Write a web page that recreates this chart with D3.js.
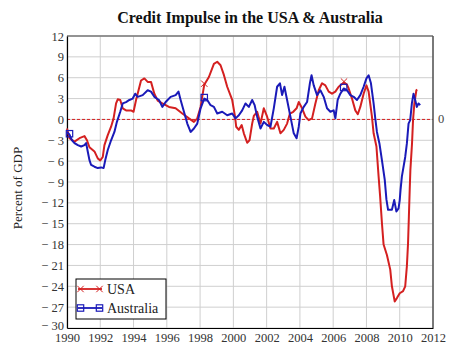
<!DOCTYPE html>
<html><head><meta charset="utf-8">
<script src="https://cdn.jsdelivr.net/npm/d3@7"></script>
<style>body{margin:0;background:#fff;}svg{display:block;} svg text{font-family:"Liberation Serif","Times New Roman","DejaVu Serif",serif;}</style>
</head><body>
<script>
const titleText = "Credit Impulse in the USA & Australia";
const yLabel = "Percent of GDP";
const xTicks = [1990,1992,1994,1996,1998,2000,2002,2004,2006,2008,2010,2012];
const yTicks = [12,9,6,3,0,-3,-6,-9,-12,-15,-18,-21,-24,-27,-30];
const seriesNames = ["USA","Australia"];
const usaData = [
[1990.0,-1.3],[1990.15,-2.7],[1990.45,-3.2],[1990.75,-2.7],[1991.05,-2.4],[1991.2,-3.0],[1991.35,-4.0],[1991.65,-4.6],[1991.85,-5.6],[1992.0,-5.9],[1992.15,-5.4],[1992.25,-3.7],[1992.45,-2.25],[1992.65,-1.05],[1992.8,0.15],[1992.95,2.3],[1993.05,2.9],[1993.2,2.8],[1993.35,1.6],[1993.55,1.3],[1993.85,1.3],[1994.0,1.1],[1994.15,2.8],[1994.3,4.2],[1994.45,5.6],[1994.65,5.9],[1994.85,5.4],[1995.05,5.4],[1995.25,3.7],[1995.45,2.7],[1995.73,2.3],[1996.13,1.8],[1996.53,1.6],[1996.93,0.85],[1997.33,0.15],[1997.63,-0.35],[1997.83,0.15],[1998.03,1.8],[1998.25,5.0],[1998.53,6.1],[1998.83,8.0],[1999.03,8.3],[1999.23,7.8],[1999.43,6.4],[1999.63,4.7],[1999.93,2.8],[2000.1,0.4],[2000.17,-1.05],[2000.33,-1.5],[2000.5,-0.8],[2000.63,-2.0],[2000.83,-3.35],[2000.97,-3.0],[2001.13,-0.6],[2001.23,0.5],[2001.43,1.1],[2001.63,-0.6],[2001.83,1.6],[2002.03,0.4],[2002.23,-1.3],[2002.43,-1.3],[2002.63,-0.35],[2002.83,-2.0],[2003.03,-1.5],[2003.23,-0.6],[2003.4,0.85],[2003.6,1.1],[2003.8,1.6],[2003.93,2.5],[2004.13,1.6],[2004.33,0.4],[2004.53,-0.1],[2004.73,0.15],[2004.93,2.3],[2005.13,4.2],[2005.33,5.2],[2005.53,4.9],[2005.73,4.0],[2005.93,3.7],[2006.13,4.0],[2006.33,4.7],[2006.65,5.3],[2006.83,5.0],[2006.93,4.45],[2007.13,3.0],[2007.33,1.3],[2007.48,0.75],[2007.63,1.8],[2007.83,3.7],[2008.0,4.9],[2008.13,4.0],[2008.33,0.4],[2008.43,-2.0],[2008.6,-3.9],[2008.73,-8.2],[2008.82,-11.0],[2008.93,-14.9],[2009.03,-18.0],[2009.23,-19.5],[2009.43,-21.6],[2009.53,-24.0],[2009.7,-26.2],[2009.83,-25.7],[2010.0,-25.0],[2010.2,-24.7],[2010.33,-24.0],[2010.43,-21.1],[2010.5,-17.8],[2010.55,-14.0],[2010.6,-10.1],[2010.64,-7.3],[2010.74,-3.4],[2010.8,-0.1],[2010.88,2.3],[2011.0,4.2],[2011.05,4.3]
];
const ausData = [
[1990.0,-1.8],[1990.15,-2.2],[1990.3,-3.0],[1990.45,-3.4],[1990.65,-3.7],[1990.85,-3.9],[1991.05,-3.7],[1991.15,-3.4],[1991.25,-4.65],[1991.35,-5.85],[1991.45,-6.55],[1991.65,-6.8],[1991.85,-7.0],[1992.05,-6.9],[1992.2,-7.0],[1992.3,-5.85],[1992.45,-4.4],[1992.65,-3.0],[1992.85,-1.8],[1993.0,-0.35],[1993.2,1.1],[1993.35,2.3],[1993.55,2.5],[1993.75,2.8],[1993.95,3.0],[1994.1,3.7],[1994.25,3.25],[1994.55,3.5],[1994.85,4.2],[1995.05,4.0],[1995.25,3.25],[1995.53,2.8],[1995.73,1.8],[1995.93,2.5],[1996.23,3.25],[1996.53,3.5],[1996.7,4.0],[1996.83,2.8],[1997.03,1.1],[1997.23,-0.6],[1997.43,-1.8],[1997.63,-1.3],[1997.83,-0.6],[1998.03,1.6],[1998.25,3.0],[1998.43,2.8],[1998.63,2.05],[1998.83,1.8],[1999.03,0.85],[1999.33,1.1],[1999.63,0.6],[1999.93,0.85],[2000.13,0.15],[2000.33,0.6],[2000.53,1.3],[2000.73,2.3],[2000.93,1.8],[2001.13,2.8],[2001.28,2.05],[2001.43,0.4],[2001.63,-1.3],[2001.83,-0.35],[2002.03,-0.8],[2002.23,-1.05],[2002.43,1.6],[2002.63,4.7],[2002.8,5.2],[2002.93,3.5],[2003.07,4.7],[2003.23,2.8],[2003.43,0.4],[2003.63,-2.0],[2003.8,-2.7],[2003.93,-1.05],[2004.03,0.85],[2004.23,1.8],[2004.43,2.5],[2004.6,5.2],[2004.7,6.35],[2004.83,4.9],[2005.03,3.5],[2005.23,4.2],[2005.43,3.25],[2005.63,1.6],[2005.83,1.1],[2006.03,1.3],[2006.13,0.15],[2006.27,2.8],[2006.43,3.7],[2006.63,4.45],[2006.83,4.2],[2007.03,3.5],[2007.23,3.25],[2007.43,2.8],[2007.63,3.5],[2007.83,4.7],[2008.0,5.9],[2008.13,6.35],[2008.27,5.2],[2008.43,2.3],[2008.53,0.15],[2008.63,-1.8],[2008.78,-3.45],[2008.93,-5.85],[2009.1,-8.7],[2009.2,-11.5],[2009.3,-13.0],[2009.53,-13.0],[2009.67,-11.6],[2009.8,-13.25],[2009.93,-12.8],[2010.0,-11.6],[2010.05,-10.1],[2010.13,-8.2],[2010.33,-5.4],[2010.43,-3.45],[2010.53,-0.6],[2010.63,-0.1],[2010.73,2.3],[2010.83,3.7],[2010.93,2.8],[2011.03,1.8],[2011.13,2.3],[2011.23,2.05]
];
const usaMarkerYears = [1998.25, 2006.65];
const ausMarkerYears = [1990.15, 1998.25, 2006.63];

const W = 450, H = 353;
const m = {left:67, right:433, top:36, bottom:328};
const colors = {USA:"#d42020", Australia:"#1a1ab8"};
const serif = '"Liberation Serif","Times New Roman","DejaVu Serif",serif';

const svg = d3.select("body").append("svg").attr("width",W).attr("height",H);
const x = d3.scaleLinear().domain([1990,2012]).range([m.left,m.right]);
const y = d3.scaleLinear().domain([-30,12]).range([m.bottom,m.top]);

// grid
svg.append("g").selectAll("line").data(xTicks).join("line")
  .attr("x1",d=>x(d)).attr("x2",d=>x(d)).attr("y1",m.top).attr("y2",m.bottom)
  .attr("stroke","#cfcfcf").attr("stroke-width",1);
svg.append("g").selectAll("line").data(yTicks).join("line")
  .attr("x1",m.left).attr("x2",m.right).attr("y1",d=>y(d)).attr("y2",d=>y(d))
  .attr("stroke","#cfcfcf").attr("stroke-width",1);

// zero line
svg.append("line").attr("x1",m.left).attr("x2",m.right).attr("y1",y(0)).attr("y2",y(0))
  .attr("stroke","#d42020").attr("stroke-width",1).attr("stroke-dasharray","3,2");

// frame
svg.append("line").attr("x1",m.left).attr("x2",m.right).attr("y1",m.top).attr("y2",m.top).attr("stroke","#777").attr("stroke-width",1.5);
svg.append("line").attr("x1",m.right).attr("x2",m.right).attr("y1",m.top).attr("y2",m.bottom).attr("stroke","#555").attr("stroke-width",1.5);

// axes
const yAxis = d3.axisLeft(y).tickValues(yTicks).tickSize(0).tickPadding(3)
  .tickFormat(d=> d<0 ? "\u2212 " + Math.abs(d) : String(d));
const gy = svg.append("g").attr("transform",`translate(${m.left},0)`).call(yAxis);
gy.attr("font-family",null);
gy.select(".domain").attr("stroke","#000").attr("stroke-width",1.2);
gy.selectAll("text").style("font-family",serif).attr("font-size",12.5).attr("fill","#333")
  .attr("dy",d=> d===-30 ? "0.1em" : "0.32em");

const xAxis = d3.axisBottom(x).tickValues(xTicks).tickSize(0).tickPadding(5).tickFormat(d3.format("d"));
const gx = svg.append("g").attr("transform",`translate(0,${m.bottom})`).call(xAxis);
gx.attr("font-family",null);
gx.select(".domain").attr("stroke","#000").attr("stroke-width",1.2);
gx.selectAll("text").style("font-family",serif).attr("font-size",12.5).attr("fill","#333");

// lines
const line = d3.line().x(d=>x(d[0])).y(d=>y(d[1]));
const series = [{name:"USA",data:usaData,markers:usaMarkerYears},{name:"Australia",data:ausData,markers:ausMarkerYears}];
series.forEach(s=>{
  svg.append("path").datum(s.data).attr("d",line).attr("fill","none")
    .attr("stroke",colors[s.name]).attr("stroke-width",2).attr("stroke-linejoin","round");
});

function drawMarker(g, name, cx, cy, r){
  if(name==="USA"){
    g.append("path").attr("d",`M${cx-r},${cy-r}L${cx+r},${cy+r}M${cx-r},${cy+r}L${cx+r},${cy-r}`)
      .attr("stroke",colors[name]).attr("stroke-width",1).attr("fill","none");
  } else {
    g.append("rect").attr("x",cx-r).attr("y",cy-r).attr("width",2*r).attr("height",2*r)
      .attr("stroke",colors[name]).attr("stroke-width",1.2).attr("fill","none");
  }
}
series.forEach(s=>{
  s.markers.forEach(yr=>{
    const p = s.data.find(d=>d[0]===yr);
    if(p) drawMarker(svg, s.name, x(p[0]), y(p[1]) - 1, 3.2);
  });
});

// right zero label
svg.append("text").attr("x",m.right+5).attr("y",y(0)+4).style("font-family",serif)
  .attr("font-size",12.5).attr("fill","#444").text("0");

// title
svg.append("text").attr("x",250).attr("y",23).attr("text-anchor","middle")
  .style("font-family",serif).attr("font-weight","bold").attr("font-size",16).attr("fill","#111").text(titleText);

// y label
svg.append("text").attr("transform",`translate(22,188) rotate(-90)`).attr("text-anchor","middle")
  .style("font-family",serif).attr("font-size",13).attr("fill","#222").text(yLabel);

// legend
const lg = svg.append("g");
lg.append("rect").attr("x",76).attr("y",279).attr("width",90).attr("height",40)
  .attr("fill","#fff").attr("stroke","#000").attr("stroke-width",1);
seriesNames.forEach((n,i)=>{
  const ly = 289 + i*19;
  lg.append("line").attr("x1",78).attr("x2",102).attr("y1",ly).attr("y2",ly)
    .attr("stroke",colors[n]).attr("stroke-width",1.8);
  drawMarker(lg,n,80.5,ly,3.2);
  drawMarker(lg,n,99.5,ly,3.2);
  lg.append("text").attr("x",107).attr("y",ly+5).style("font-family",serif)
    .attr("font-size",14).attr("fill","#222").text(n);
});
</script>
</body></html>
